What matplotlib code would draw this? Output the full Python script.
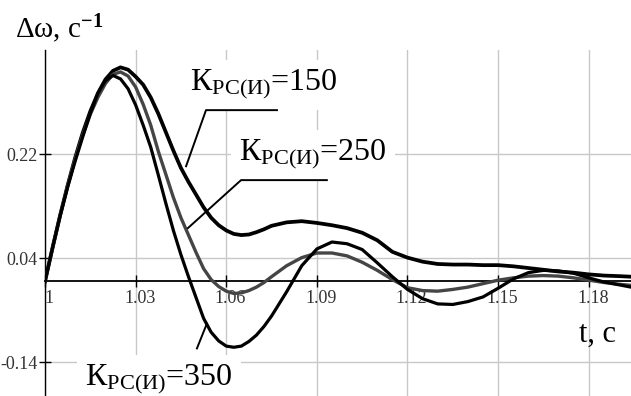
import matplotlib
matplotlib.use("Agg")
import matplotlib.pyplot as plt
import matplotlib.transforms as mtransforms

plt.rcParams['font.family'] = ['Liberation Serif', 'DejaVu Serif']
plt.rcParams['mathtext.fontset'] = 'custom'
plt.rcParams['mathtext.rm'] = 'Liberation Serif'
plt.rcParams['mathtext.it'] = 'Liberation Serif:italic'
plt.rcParams['mathtext.bf'] = 'Liberation Serif:bold'

# time, s
t = [1.000, 1.0025, 1.005, 1.0075, 1.010, 1.0125, 1.015, 1.0175, 1.020, 1.0225,
     1.025, 1.0275, 1.030, 1.0325, 1.035, 1.0375, 1.040, 1.0425, 1.045, 1.0475,
     1.050, 1.0525, 1.055, 1.0575, 1.060, 1.0625, 1.065, 1.0675, 1.070, 1.0725,
     1.075, 1.080, 1.085, 1.090, 1.095, 1.100, 1.105, 1.110, 1.115, 1.120,
     1.125, 1.130, 1.135, 1.140, 1.145, 1.150, 1.155, 1.160, 1.165, 1.170,
     1.175, 1.180, 1.185, 1.190, 1.194]

# delta omega for K = 150, 250, 350
k150 = [0.000, 0.058, 0.114, 0.166, 0.214, 0.257, 0.294, 0.325, 0.349, 0.364,
        0.370, 0.366, 0.354, 0.340, 0.318, 0.290, 0.258, 0.226, 0.196, 0.172,
        0.150, 0.128, 0.110, 0.097, 0.088, 0.082, 0.080, 0.081, 0.085, 0.090,
        0.096, 0.102, 0.104, 0.101, 0.097, 0.092, 0.084, 0.071, 0.051, 0.041,
        0.034, 0.030, 0.029, 0.029, 0.028, 0.028, 0.026, 0.023, 0.020, 0.017,
        0.015, 0.012, 0.010, 0.009, 0.008]

k250 = [0.000, 0.058, 0.114, 0.165, 0.212, 0.253, 0.289, 0.318, 0.342, 0.358,
        0.362, 0.355, 0.336, 0.306, 0.270, 0.225, 0.185, 0.145, 0.110, 0.080,
        0.050, 0.022, 0.003, -0.009, -0.017, -0.021, -0.020, -0.016, -0.010, -0.002,
        0.008, 0.027, 0.041, 0.049, 0.049, 0.044, 0.033, 0.019, 0.003, -0.011,
        -0.016, -0.017, -0.014, -0.010, -0.004, 0.002, 0.006, 0.009, 0.010, 0.009,
        0.006, 0.002, -0.002, -0.005, -0.007]

k350 = [0.000, 0.058, 0.113, 0.163, 0.208, 0.250, 0.290, 0.325, 0.347, 0.356,
        0.350, 0.333, 0.305, 0.270, 0.232, 0.184, 0.135, 0.088, 0.046, 0.008,
        -0.028, -0.064, -0.088, -0.103, -0.112, -0.114, -0.112, -0.104, -0.093, -0.078,
        -0.060, -0.018, 0.027, 0.056, 0.068, 0.065, 0.055, 0.032, 0.008, -0.014,
        -0.030, -0.039, -0.040, -0.035, -0.027, -0.012, 0.004, 0.015, 0.019, 0.018,
        0.014, 0.006, -0.001, -0.006, -0.010]

xticks = [1.0, 1.03, 1.06, 1.09, 1.12, 1.15, 1.18]
xtick_labels = ['1', '1.03', '1.06', '1.09', '1.12', '1.15', '1.18']
yticks = [-0.14, 0.04, 0.22]
ytick_labels = ['-0.14', '0.04', '0.22']

fig = plt.figure(figsize=(6.31, 3.96), dpi=100)
ax = fig.add_axes([45 / 631, -1 / 396, 586 / 631, 347 / 396])
ax.set_xlim(1.0, 1.194)
ax.set_ylim(-0.2, 0.4)

ax.plot(t, k150, color='black', lw=2.7, zorder=3, solid_joinstyle='round')
ax.plot(t, k250, color='#454545', lw=2.4, zorder=3, solid_joinstyle='round')
ax.plot(t, k350, color='black', lw=2.3, zorder=3, solid_joinstyle='round')

# axes through the origin, Mathcad style
for s in ['top', 'right']:
    ax.spines[s].set_visible(False)
ax.spines['bottom'].set_position(('data', 0))
ax.spines['bottom'].set_linewidth(1.3)
ax.spines['left'].set_linewidth(1.0)

ax.set_xticks(xticks)
ax.set_xticklabels(xtick_labels)
ax.set_yticks(yticks)
ax.set_yticklabels(ytick_labels)
ax.tick_params(axis='both', direction='inout', length=9, width=1.0,
               labelsize=13, labelcolor='#333333', pad=1)
ax.tick_params(axis='x', pad=2)
ax.grid(True, color='#c8c8c8', lw=1.0)
ax.set_axisbelow(True)

offset = mtransforms.ScaledTranslation(4 / 100, 0, fig.dpi_scale_trans)
for lab in ax.get_xticklabels():
    lab.set_transform(lab.get_transform() + offset)

# axis titles
fig.text(15 / 631, 1 - 38 / 396, r"Δω, c$^{\mathbf{-1}}$", fontsize=21, ha='left', va='baseline')
fig.text(579 / 631, 1 - 342 / 396, "t, c", fontsize=22, ha='left', va='baseline')

# curve labels with white boxes and leader lines
box = dict(facecolor='white', edgecolor='none', pad=6)
labels = [(1.0480, 0.330, r"К$_{\mathrm{РС(И)}}$=150"),
          (1.0642, 0.209, r"К$_{\mathrm{РС(И)}}$=250"),
          (1.0132, -0.180, r"К$_{\mathrm{РС(И)}}$=350")]
for x, y, s in labels:
    ax.text(x, y, s, fontsize=23, ha='left', va='baseline', bbox=box, zorder=2)

leaders = [([1.0467, 1.0533, 1.0768], [0.199, 0.296, 0.296]),
           ([1.0473, 1.0649, 1.0933], [0.092, 0.175, 0.175]),
           ([1.0536, 1.0503], [-0.073, -0.116])]
for lx, ly in leaders:
    ax.plot(lx, ly, color='black', lw=1.4, zorder=3)

fig.savefig('out.png', dpi=100)
